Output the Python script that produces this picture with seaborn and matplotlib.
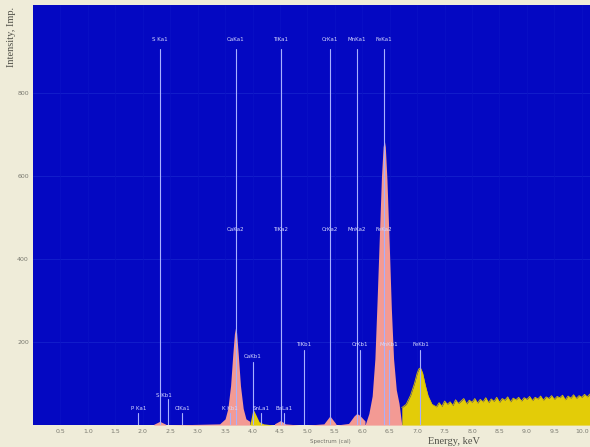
import numpy as np
import pandas as pd
import matplotlib
matplotlib.use("Agg")
import matplotlib.pyplot as plt
import seaborn as sns

# Spectrum values (energy in keV, intensity in imp.)
energy = [0.05, 1.80, 2.20, 2.31, 2.42, 3.40, 3.50, 3.55, 3.60, 3.64, 3.67, 3.69, 3.71,
          3.74, 3.78, 3.83, 3.88, 3.95, 4.00, 4.02, 4.06, 4.12, 4.20, 4.40, 4.51, 4.60,
          4.85, 4.93, 5.00, 5.30, 5.41, 5.52, 5.75, 5.85, 5.90, 5.95, 6.05, 6.12, 6.18,
          6.23, 6.27, 6.31, 6.35, 6.38, 6.40, 6.42, 6.45, 6.49, 6.53, 6.57, 6.62, 6.67,
          6.72, 6.80, 6.88, 6.95, 7.00, 7.03, 7.06, 7.10, 7.15, 7.20, 7.27, 7.35, 7.40,
          7.45, 7.50, 7.55, 7.60, 7.65, 7.70, 7.75, 7.80, 7.85, 7.90, 7.95, 8.00, 8.05,
          8.10, 8.15, 8.20, 8.25, 8.30, 8.35, 8.40, 8.45, 8.50, 8.55, 8.60, 8.65, 8.70,
          8.75, 8.80, 8.85, 8.90, 8.95, 9.00, 9.05, 9.10, 9.15, 9.20, 9.25, 9.30, 9.35,
          9.40, 9.45, 9.50, 9.55, 9.60, 9.65, 9.70, 9.75, 9.80, 9.85, 9.90, 9.95, 10.00,
          10.05, 10.10, 10.15, 10.20]
counts = [0, 2, 2, 9, 2, 3, 15, 40, 95, 170, 220, 234, 222,
          170, 95, 40, 15, 9, 33, 36, 25, 8, 3, 3, 11, 3,
          2, 5, 2, 3, 22, 3, 4, 22, 28, 24, 10, 28, 70,
          160, 300, 450, 600, 670, 687, 670, 590, 440, 280, 160, 85, 52,
          42, 50, 72, 100, 125, 135, 138, 125, 95, 70, 50, 44, 54,
          45, 58, 50, 56, 47, 61, 52, 58, 64, 51, 60, 55, 64,
          53, 62, 56, 66, 54, 63, 57, 67, 55, 64, 60, 68, 56,
          65, 61, 67, 58, 66, 62, 69, 59, 67, 63, 70, 60, 68,
          64, 71, 62, 69, 66, 72, 61, 70, 65, 73, 64, 71, 67,
          74, 68, 75, 70]

# coloured peak regions (start, end) in keV
pink_regions = [(2.18, 2.44), (3.38, 3.96), (4.38, 4.62), (5.28, 5.54), (5.72, 6.06), (6.06, 6.70)]
yellow_regions = [(3.96, 4.22), (6.70, 10.2)]

# identification lines and their labels
line_energy = [2.31, 3.69, 4.51, 5.41, 5.90, 6.40]
line_top_label = ["S Ka1", "CaKa1", "TiKa1", "CrKa1", "MnKa1", "FeKa1"]
line_mid_label = [None, "CaKa2", "TiKa2", "CrKa2", "MnKa2", "FeKa2"]
minor_energy = [4.01, 4.93, 5.95, 6.49, 7.06]
minor_label = ["CaKb1", "TiKb1", "CrKb1", "MnKb1", "FeKb1"]
minor_top = [165, 193, 193, 193, 193]
small_energy = [1.92, 2.72, 3.59, 4.15, 4.57]
small_label = ["P Ka1", "ClKa1", "K Kb1", "SnLa1", "BaLa1"]

xticks = [0.5, 1.0, 1.5, 2.0, 2.5, 3.0, 3.5, 4.0, 4.5, 5.0, 5.5, 6.0, 6.5, 7.0,
          7.5, 8.0, 8.5, 9.0, 9.5, 10.0]
yticks = [200, 400, 600, 800]

df = pd.DataFrame({"energy": energy, "counts": counts})

sns.set_theme(style="dark")
plt.rcParams['font.family'] = ['DejaVu Sans']

fig = plt.figure(figsize=(5.9, 4.47), dpi=100)
fig.patch.set_facecolor('#efecd9')
ax = fig.add_axes([0.056, 0.049, 0.944, 0.94])
ax.set_facecolor('#0408c2')

# faint grid in a slightly lighter blue
for yt in yticks:
    ax.axhline(yt, color='#1420cc', lw=0.6, zorder=0)
for xt in xticks:
    ax.axvline(xt, color='#0a12c6', lw=0.5, zorder=0)

e = df["energy"].to_numpy()
c = df["counts"].to_numpy()
for lo, hi in pink_regions:
    ax.fill_between(e, 0, c, where=(e >= lo) & (e <= hi), color='#f39a94',
                    lw=0, interpolate=True, zorder=2)
for lo, hi in yellow_regions:
    ax.fill_between(e, 0, c, where=(e >= lo) & (e <= hi), color='#e3cc08',
                    lw=0, interpolate=True, zorder=2)
sns.lineplot(data=df[df["energy"] >= 6.70], x="energy", y="counts", ax=ax,
             color='#d8c000', lw=0.6, zorder=3)

lab = dict(color='#d6d8ff', fontsize=4, ha='center', va='center', zorder=5)
vline = dict(color='#a8b0ff', lw=0.8, zorder=4)

for en, t1, t2 in zip(line_energy, line_top_label, line_mid_label):
    ax.plot([en, en], [0, 905], **vline)
    ax.text(en, 928, t1, **lab)
    if t2:
        ax.text(en, 470, t2, **lab)
for en, t, top in zip(minor_energy, minor_label, minor_top):
    ax.plot([en, en], [0, top - 12], **vline)
    ax.text(en, top, t, **lab)
for en, t in zip(small_energy, small_label):
    ax.plot([en, en], [0, 30], **vline)
    ax.text(en, 41, t, **lab)
ax.plot([2.46, 2.46], [0, 62], **vline)
ax.text(2.38, 72, "S Kb1", **lab)

ax.set_xlim(0, 10.15)
ax.set_ylim(0, 1012)
ax.set_xticks(xticks)
ax.set_xticklabels([f"{v:.1f}" for v in xticks])
ax.set_yticks(yticks)
ax.tick_params(axis='both', labelsize=4.5, labelcolor='#7a7a70', length=0, pad=3)
ax.set_xlabel("")
ax.set_ylabel("")
for s in ax.spines.values():
    s.set_visible(False)

fig.text(0.02, 0.985, "Intensity, Imp.", rotation=90, va='top', ha='center',
         fontsize=7.5, color='#505048', family='Liberation Serif')
fig.text(0.77, 0.013, "Energy, keV", ha='center', va='center', fontsize=7.5,
         color='#505048', family='Liberation Serif')
fig.text(0.56, 0.013, "Spectrum (cal)", ha='center', va='center', fontsize=4, color='#707068')

fig.savefig("out.png", dpi=100, facecolor=fig.get_facecolor())
